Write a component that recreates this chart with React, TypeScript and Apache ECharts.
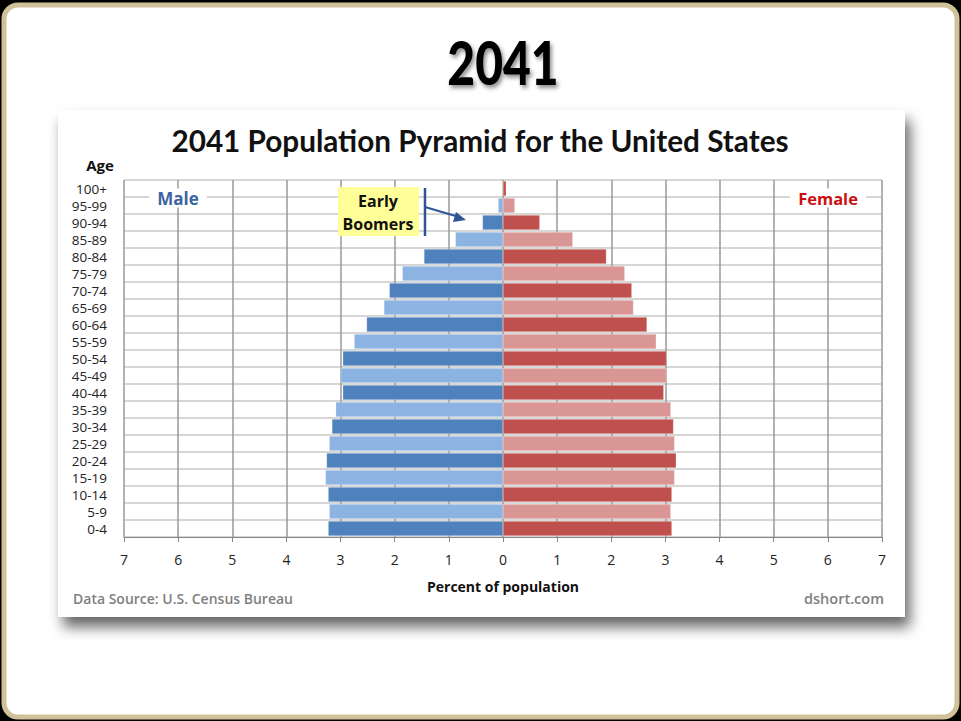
import React, { useEffect, useRef } from "react";
import * as echarts from "echarts";

const ageGroups = ["0-4", "5-9", "10-14", "15-19", "20-24", "25-29", "30-34", "35-39", "40-44", "45-49", "50-54", "55-59", "60-64", "65-69", "70-74", "75-79", "80-84", "85-89", "90-94", "95-99", "100+"];
const maleValues = [3.23, 3.21, 3.23, 3.28, 3.26, 3.21, 3.16, 3.09, 2.96, 3.0, 2.96, 2.75, 2.52, 2.2, 2.1, 1.86, 1.46, 0.88, 0.38, 0.09, 0.01];
const femaleValues = [3.12, 3.1, 3.12, 3.17, 3.2, 3.17, 3.15, 3.1, 2.97, 3.02, 3.02, 2.83, 2.66, 2.41, 2.38, 2.25, 1.91, 1.29, 0.68, 0.22, 0.06];
const xTicks = [-7, -6, -5, -4, -3, -2, -1, 0, 1, 2, 3, 4, 5, 6, 7];

const MALE_DARK = "#4F81BD";
const MALE_LIGHT = "#8DB3E2";
const FEMALE_DARK = "#C0504D";
const FEMALE_LIGHT = "#D99694";

export default function App() {
  const ref = useRef<HTMLDivElement>(null);
  useEffect(() => {
    if (!ref.current) return;
    const chart = echarts.init(ref.current, null, { renderer: "svg" });
    const font = "'Open Sans', 'Noto Sans', sans-serif";
    const option: any = {
      animation: false,
      backgroundColor: "#000",
      grid: { left: 124, right: 79, top: 180, bottom: 184, containLabel: false },
      xAxis: {
        type: "value",
        min: xTicks[0],
        max: xTicks[xTicks.length - 1],
        interval: 1,
        axisLine: { show: true, onZero: false, lineStyle: { color: "#868686", width: 1 } },
        axisTick: { show: true, length: 5, lineStyle: { color: "#868686" } },
        axisLabel: {
          color: "#222",
          fontSize: 14,
          fontFamily: font,
          margin: 15,
          formatter: (v: number) => String(Math.abs(v)),
        },
        splitLine: { show: true, lineStyle: { color: "#9a9a9a", width: 1.5 } },
        name: "Percent of population",
        nameLocation: "middle",
        nameGap: 42,
        nameTextStyle: { color: "#111", fontSize: 14, fontWeight: "bold", fontFamily: font },
      },
      yAxis: {
        type: "category",
        data: ageGroups,
        axisLine: { show: false },
        axisTick: { show: false },
        axisLabel: { color: "#222", fontSize: 13.5, lineHeight: 15, fontFamily: font, margin: 17, interval: 0 },
        splitLine: { show: true, interval: 0, lineStyle: { color: "#d6d6d6", width: 2 } },
      },
      series: [
        {
          name: "Male",
          type: "bar",
          barGap: "-100%",
          barCategoryGap: "12%",
          data: maleValues.map((v, i) => ({
            value: -v,
            itemStyle: { color: i % 2 === 0 ? MALE_DARK : MALE_LIGHT },
          })),
          itemStyle: { borderColor: "rgba(255,255,255,0.5)", borderWidth: 0.5 },
        },
        {
          name: "Female",
          type: "bar",
          barGap: "-100%",
          barCategoryGap: "12%",
          data: femaleValues.map((v, i) => ({
            value: v,
            itemStyle: { color: i % 2 === 0 ? FEMALE_DARK : FEMALE_LIGHT },
          })),
          itemStyle: { borderColor: "rgba(255,255,255,0.5)", borderWidth: 0.5 },
        },
      ],
      graphic: [
        {
          type: "rect",
          z: -10,
          shape: { x: 4, y: 5, width: 953, height: 712, r: 14 },
          style: { fill: "#fff", stroke: "#D1C199", lineWidth: 5 },
        },
        {
          type: "rect",
          z: -9,
          shape: { x: 58, y: 110, width: 847, height: 507 },
          style: {
            fill: "#fff",
            shadowBlur: 14,
            shadowOffsetX: 5,
            shadowOffsetY: 10,
            shadowColor: "rgba(0,0,0,0.6)",
          },
        },
        {
          type: "text",
          z: 10,
          x: 503,
          y: 62,
          scaleX: 0.8,
          style: {
            text: "2041",
            fill: "#000",
            font: "900 60px Lato, 'Open Sans', sans-serif",
            textAlign: "center",
            textVerticalAlign: "middle",
            textShadowColor: "rgba(0,0,0,0.45)",
            textShadowBlur: 4,
            textShadowOffsetX: 2,
            textShadowOffsetY: 3,
          },
        },
        {
          type: "text",
          z: 10,
          x: 480,
          y: 140,
          style: {
            text: "2041 Population Pyramid for the United States",
            fill: "#111",
            font: "bold 29.7px Lato, 'Open Sans', sans-serif",
            textAlign: "center",
            textVerticalAlign: "middle",
          },
        },
        {
          type: "text",
          z: 10,
          x: 100,
          y: 165,
          style: {
            text: "Age",
            fill: "#111",
            font: "bold 15px 'Open Sans', sans-serif",
            textAlign: "center",
            textVerticalAlign: "middle",
          },
        },
        {
          type: "text",
          z: 20,
          x: 178,
          y: 198,
          style: {
            text: "Male",
            fill: "#3C64A0",
            font: "bold 17px 'Open Sans', sans-serif",
            textAlign: "center",
            textVerticalAlign: "middle",
            backgroundColor: "#fff",
            padding: [1, 8],
          },
        },
        {
          type: "text",
          z: 20,
          x: 828,
          y: 198,
          style: {
            text: "Female",
            fill: "#CC1010",
            font: "bold 16.5px 'Open Sans', sans-serif",
            textAlign: "center",
            textVerticalAlign: "middle",
            backgroundColor: "#fff",
            padding: [1, 8],
          },
        },
        {
          type: "rect",
          z: 20,
          shape: { x: 338, y: 187, width: 81, height: 49 },
          style: { fill: "#FFFF99" },
        },
        {
          type: "text",
          z: 21,
          x: 378,
          y: 201,
          style: {
            text: "Early",
            fill: "#111",
            font: "bold 16px 'Open Sans', sans-serif",
            textAlign: "center",
            textVerticalAlign: "middle",
          },
        },
        {
          type: "text",
          z: 21,
          x: 378,
          y: 224,
          style: {
            text: "Boomers",
            fill: "#111",
            font: "bold 16px 'Open Sans', sans-serif",
            textAlign: "center",
            textVerticalAlign: "middle",
          },
        },
        {
          type: "line",
          z: 21,
          shape: { x1: 425, y1: 188, x2: 425, y2: 236 },
          style: { stroke: "#2F5597", lineWidth: 2.5 },
        },
        {
          type: "line",
          z: 21,
          shape: { x1: 425, y1: 207, x2: 459, y2: 217 },
          style: { stroke: "#2F5597", lineWidth: 2 },
        },
        {
          type: "polygon",
          z: 21,
          shape: { points: [[466, 220], [456, 212], [453, 222]] },
          style: { fill: "#2F5597" },
        },
        {
          type: "text",
          z: 10,
          x: 73,
          y: 598,
          style: {
            text: "Data Source: U.S. Census Bureau",
            fill: "#7F7F7F",
            font: "600 14px 'Open Sans', sans-serif",
            textAlign: "left",
            textVerticalAlign: "middle",
          },
        },
        {
          type: "text",
          z: 10,
          x: 884,
          y: 598,
          style: {
            text: "dshort.com",
            fill: "#7F7F7F",
            font: "600 14.5px 'Open Sans', sans-serif",
            textAlign: "right",
            textVerticalAlign: "middle",
          },
        },
      ],
    };
    chart.setOption(option);
    return () => chart.dispose();
  }, []);
  return (
    <div
      ref={ref}
      style={{ position: "fixed", left: 0, top: 0, width: 961, height: 721 }}
    />
  );
}
